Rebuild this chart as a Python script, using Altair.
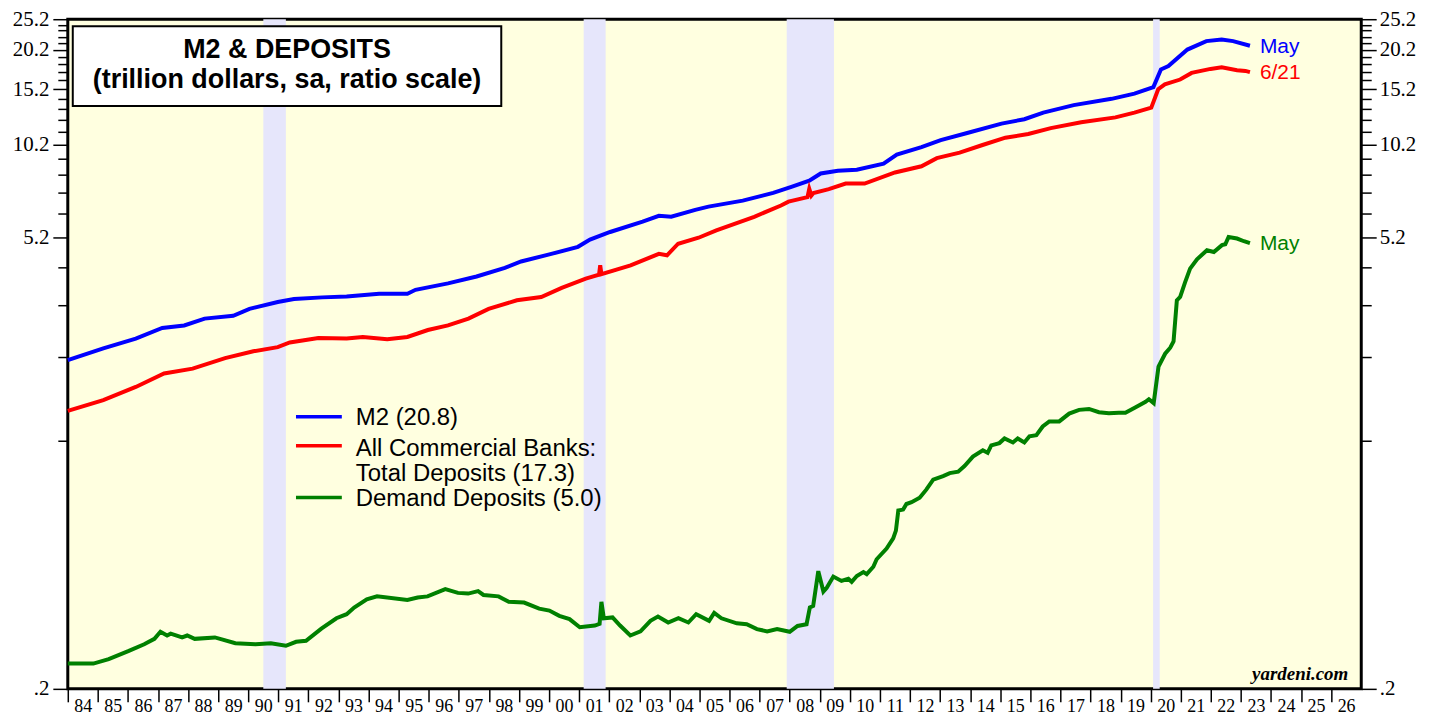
import altair as alt
import pandas as pd

# ---------------- data (trillion dollars) ----------------
m2_years = [1984.0, 1985.18, 1986.26, 1987.14, 1987.87, 1988.55, 1989.5, 1990.04, 1990.98, 1991.52,
            1992.46, 1993.27, 1994.35, 1995.29, 1995.56, 1996.64, 1997.59, 1998.53, 1999.07, 2000.01,
            2000.96, 2001.36, 2002.03, 2003.11, 2003.65, 2004.06, 2004.86, 2005.30, 2006.44, 2007.45,
            2008.08, 2008.65, 2009.03, 2009.6, 2010.23, 2011.12, 2011.56, 2012.38, 2013.02, 2013.9,
            2015.04, 2015.8, 2016.43, 2017.44, 2018.7, 2019.46, 2020.09, 2020.34, 2020.59, 2021.22,
            2021.85, 2022.36, 2022.74, 2023.3]
m2_vals = [2.15, 2.34, 2.51, 2.71, 2.76, 2.90, 2.96, 3.11, 3.27, 3.34,
           3.38, 3.40, 3.47, 3.47, 3.57, 3.74, 3.93, 4.18, 4.38, 4.61,
           4.87, 5.13, 5.42, 5.84, 6.09, 6.05, 6.36, 6.51, 6.80, 7.19,
           7.52, 7.85, 8.27, 8.44, 8.50, 8.88, 9.48, 10.0, 10.52, 11.08,
           11.86, 12.24, 12.84, 13.55, 14.18, 14.72, 15.44, 17.53, 17.96, 20.24,
           21.51, 21.77, 21.51, 20.8]

dep_years = [1984.0, 1985.18, 1986.26, 1987.2, 1988.15, 1989.23, 1990.17, 1990.98, 1991.38, 1992.33,
             1993.27, 1993.81, 1994.62, 1995.29, 1995.97, 1996.64, 1997.32, 1997.99, 1998.93, 1999.74,
             2000.42, 2001.22, 2001.66, 2001.70, 2001.74, 2002.71, 2003.65, 2003.92, 2004.29, 2004.97,
             2005.56, 2006.82, 2007.71, 2007.96, 2008.59, 2008.65, 2008.72, 2008.79, 2009.3, 2009.86,
             2010.49, 2011.5, 2012.38, 2012.89, 2013.65, 2014.41, 2015.17, 2015.93, 2016.68, 2017.69,
             2018.83, 2019.46, 2020.02, 2020.25, 2020.47, 2020.98, 2021.36, 2021.99, 2022.36, 2022.87,
             2023.15, 2023.3]
dep_vals = [1.49, 1.61, 1.77, 1.95, 2.02, 2.18, 2.29, 2.36, 2.44, 2.52,
            2.51, 2.54, 2.50, 2.54, 2.67, 2.76, 2.90, 3.11, 3.31, 3.39,
            3.62, 3.87, 3.98, 4.26, 4.00, 4.26, 4.63, 4.58, 4.98, 5.20,
            5.48, 6.05, 6.56, 6.75, 6.97, 7.40, 7.05, 7.18, 7.39, 7.69,
            7.69, 8.33, 8.71, 9.24, 9.61, 10.16, 10.71, 11.0, 11.48, 11.97,
            12.4, 12.84, 13.3, 15.2, 15.74, 16.3, 17.1, 17.6, 17.8, 17.44,
            17.35, 17.2]

dd_years = [1984.0, 1984.85, 1985.36, 1986.03, 1986.54, 1986.88, 1987.08, 1987.3, 1987.42, 1987.8,
            1987.97, 1988.22, 1988.89, 1989.57, 1990.24, 1990.75, 1991.25, 1991.59, 1991.92, 1992.43,
            1992.93, 1993.27, 1993.52, 1993.94, 1994.28, 1995.29, 1995.63, 1995.96, 1996.55, 1996.97,
            1997.31, 1997.64, 1997.82, 1998.32, 1998.66, 1999.17, 1999.67, 2000.01, 2000.34, 2000.68,
            2001.02, 2001.52, 2001.68, 2001.74, 2001.82, 2002.11, 2002.36, 2002.7, 2003.04, 2003.37,
            2003.62, 2003.96, 2004.3, 2004.63, 2004.89, 2005.32, 2005.49, 2005.73, 2006.24, 2006.57,
            2006.91, 2007.25, 2007.58, 2008.0, 2008.26, 2008.56, 2008.67, 2008.78, 2008.95, 2009.12,
            2009.23, 2009.45, 2009.72, 2009.95, 2010.06, 2010.23, 2010.45, 2010.56, 2010.78, 2010.89,
            2011.22, 2011.44, 2011.53, 2011.61, 2011.77, 2011.88, 2012.05, 2012.32, 2012.54, 2012.77,
            2013.1, 2013.32, 2013.6, 2013.81, 2014.09, 2014.42, 2014.58, 2014.7, 2014.97, 2015.14,
            2015.42, 2015.58, 2015.8, 2015.97, 2016.2, 2016.41, 2016.63, 2016.96, 2017.29, 2017.62,
            2017.95, 2018.28, 2018.61, 2018.94, 2019.16, 2019.5, 2019.83, 2019.94, 2020.1, 2020.26,
            2020.48, 2020.65, 2020.76, 2020.87, 2020.98, 2021.14, 2021.31, 2021.54, 2021.87, 2022.1,
            2022.37, 2022.48, 2022.59, 2022.87, 2023.1, 2023.3]
dd_vals = [0.240, 0.240, 0.248, 0.263, 0.276, 0.287, 0.302, 0.294, 0.298, 0.290,
           0.294, 0.287, 0.290, 0.278, 0.276, 0.278, 0.273, 0.281, 0.283, 0.309,
           0.333, 0.343, 0.360, 0.382, 0.390, 0.380, 0.387, 0.390, 0.411, 0.400,
           0.398, 0.405, 0.394, 0.390, 0.375, 0.373, 0.357, 0.352, 0.339, 0.331,
           0.312, 0.316, 0.320, 0.375, 0.333, 0.335, 0.316, 0.294, 0.303, 0.327,
           0.337, 0.323, 0.333, 0.323, 0.343, 0.327, 0.346, 0.333, 0.321, 0.319,
           0.308, 0.303, 0.308, 0.302, 0.315, 0.319, 0.360, 0.364, 0.468, 0.404,
           0.415, 0.450, 0.436, 0.443, 0.433, 0.452, 0.465, 0.458, 0.483, 0.510,
           0.551, 0.593, 0.627, 0.725, 0.730, 0.760, 0.770, 0.795, 0.843, 0.906,
           0.930, 0.950, 0.960, 1.00, 1.07, 1.12, 1.10, 1.16, 1.18, 1.22,
           1.185, 1.22, 1.185, 1.24, 1.25, 1.33, 1.38, 1.38, 1.46, 1.50,
           1.51, 1.475, 1.465, 1.47, 1.47, 1.53, 1.59, 1.62, 1.575, 2.05,
           2.25, 2.35, 2.46, 3.31, 3.39, 3.76, 4.16, 4.45, 4.75, 4.69,
           4.93, 4.96, 5.23, 5.17, 5.07, 5.00]

series_names = ["M2", "Total Deposits", "Demand Deposits"]
series_colors = ["#0000ff", "#ff0000", "#008000"]
end_labels = ["May", "6/21", "May"]

rec_start = [1990.5, 2001.15, 2007.9, 2020.08]
rec_end = [1991.25, 2001.88, 2009.47, 2020.3]

year_ticks = list(range(1984, 2027))
y_ticks = [round(0.2 + k, 1) for k in range(26)]

legend_labels = ["M2 (20.8)", "All Commercial Banks:", "Total Deposits (17.3)", "Demand Deposits (5.0)"]
title_lines = ["M2 & DEPOSITS", "(trillion dollars, sa, ratio scale)"]

# ---------------- tables ----------------
rows = []
for name, ys, vs in zip(series_names, [m2_years, dep_years, dd_years], [m2_vals, dep_vals, dd_vals]):
    for yy, vv in zip(ys, vs):
        rows.append({"year": yy, "value": vv, "series": name})
lines_df = pd.DataFrame(rows)

ends_df = pd.DataFrame({
    "year": [m2_years[-1], dep_years[-1], dd_years[-1]],
    "value": [m2_vals[-1], dep_vals[-1], dd_vals[-1]],
    "series": series_names,
    "label": end_labels,
})
rec_df = pd.DataFrame({"start": rec_start, "end": rec_end})

SERIF = "Liberation Serif"
SANS = "Liberation Sans"

xscale = alt.Scale(domain=[1984, 2027], nice=False, zero=False)
yscale = alt.Scale(type="log", domain=[0.2, 25.2], nice=False)
cscale = alt.Scale(domain=series_names, range=series_colors)

x_axis = alt.Axis(values=year_ticks, labelExpr="substring(toString(datum.value), 2)",
                  labelOffset=15, labelFlush=False, labelOverlap=False, labelBound=False,
                  tickSize=13, tickWidth=1.5, tickColor="black", labelPadding=-4,
                  labelFont=SERIF, labelFontSize=18, labelColor="black",
                  domain=False, grid=False, title=None, orient="bottom")

major_test = "(round(datum.value*10) - 2) % 50 == 0"
ylabel_expr = f"{major_test} ? (datum.value < 1 ? '.2' : format(datum.value, '.1f')) : ''"


def y_axis(orient, pad):
    return alt.Axis(values=y_ticks, labelExpr=ylabel_expr, orient=orient,
                    tickSize={"condition": {"test": major_test, "value": 15}, "value": 10},
                    tickWidth=1.5, tickColor="black", labelPadding=pad,
                    labelFont=SERIF, labelFontSize=21, labelColor="black",
                    labelOverlap=False, labelBound=False, labelFlush=False,
                    domain=False, grid=False, title=None)


bands = alt.Chart(rec_df).mark_rect(color="#e6e6fb").encode(
    x=alt.X("start:Q", scale=xscale, axis=x_axis),
    x2="end:Q",
)

lines = alt.Chart(lines_df).mark_line(strokeWidth=4).encode(
    x=alt.X("year:Q", scale=xscale, axis=x_axis),
    y=alt.Y("value:Q", scale=yscale, axis=y_axis("left", 4)),
    color=alt.Color("series:N", scale=cscale, legend=None),
)

right_axis = alt.Chart(lines_df).mark_line(opacity=0).encode(
    x=alt.X("year:Q", scale=xscale, axis=x_axis),
    y=alt.Y("value:Q", scale=yscale, axis=y_axis("right", 3)),
    detail="series:N",
)

end_text = alt.Chart(ends_df).mark_text(align="left", baseline="middle", dx=10, dy=1,
                                        font=SANS, fontSize=21).encode(
    x=alt.X("year:Q", scale=xscale, axis=x_axis),
    y=alt.Y("value:Q", scale=yscale, axis=None),
    text="label:N",
    color=alt.Color("series:N", scale=cscale, legend=None),
)

# title box (annotation in pixel space)
box = alt.Chart(pd.DataFrame({"a": [0]})).mark_rect(fill="white", stroke="black", strokeWidth=2).encode(
    x=alt.value(5), x2=alt.value(435), y=alt.value(7), y2=alt.value(87))
title_df = pd.DataFrame({"t": title_lines, "py": [31, 61]})
title_text = alt.Chart(title_df).mark_text(font=SANS, fontSize=27, fontWeight="bold",
                                           align="center", baseline="middle", color="black").encode(
    x=alt.value(220), y=alt.Y("py:Q", scale=None), text="t:N")

# legend (annotation in pixel space)
leg_line_df = pd.DataFrame({"series": series_names, "py": [399, 428, 480]})
leg_lines = alt.Chart(leg_line_df).mark_rule(strokeWidth=3.5).encode(
    x=alt.value(229), x2=alt.value(275), y=alt.Y("py:Q", scale=None),
    color=alt.Color("series:N", scale=cscale, legend=None))
leg_text_df = pd.DataFrame({"t": legend_labels, "py": [400, 431, 456, 481]})
leg_text = alt.Chart(leg_text_df).mark_text(font=SANS, fontSize=24, align="left", baseline="middle",
                                            color="black").encode(
    x=alt.value(289), y=alt.Y("py:Q", scale=None), text="t:N")

credit = alt.Chart(pd.DataFrame({"t": ["yardeni.com"]})).mark_text(
    font=SERIF, fontSize=19, fontWeight="bold", fontStyle="italic", align="right",
    baseline="middle", color="black").encode(x=alt.value(1285), y=alt.value(657), text="t:N")

chart = alt.layer(bands, lines, right_axis, end_text, box, title_text, leg_lines, leg_text, credit).resolve_axis(
    y="independent"
).properties(
    width=1298, height=672,
    autosize=alt.AutoSizeParams(type="none"),
    padding={"left": 60, "top": 10, "right": 70, "bottom": 31},
).configure_view(
    fill="#ffffe0", stroke="black", strokeWidth=3
)

chart.save("out.html", embed_options={"renderer": "svg", "actions": False})
